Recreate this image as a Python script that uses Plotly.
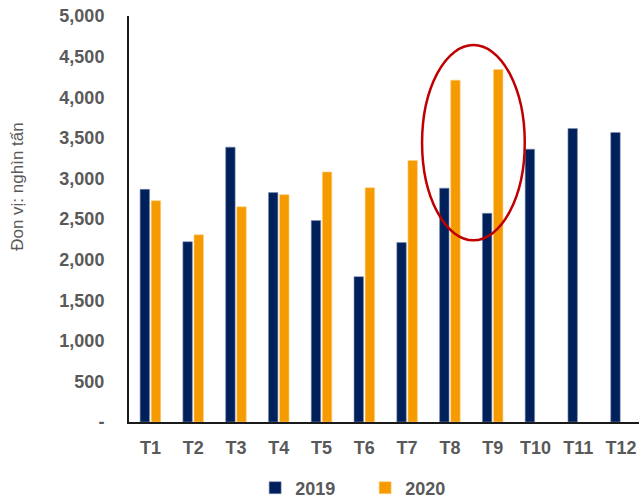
import plotly.graph_objects as go

months = ["T1", "T2", "T3", "T4", "T5", "T6", "T7", "T8", "T9", "T10", "T11", "T12"]
v2019 = [2865, 2220, 3385, 2825, 2480, 1790, 2210, 2880, 2570, 3360, 3615, 3565]
v2020 = [2725, 2305, 2650, 2800, 3080, 2885, 3220, 4210, 4340, None, None, None]
ytick_vals = [0, 500, 1000, 1500, 2000, 2500, 3000, 3500, 4000, 4500, 5000]
ytick_text = ["-", "500", "1,000", "1,500", "2,000", "2,500", "3,000", "3,500", "4,000", "4,500", "5,000"]

NAVY = "#00205C"
ORANGE = "#F59B00"
GRAY = "#595959"
FONT = "Liberation Sans"

fig = go.Figure()
fig.add_trace(go.Bar(x=months, y=v2019, name="2019", marker=dict(color=NAVY, line=dict(color="#8090b0", width=0.6))))
fig.add_trace(go.Bar(x=months, y=v2020, name="2020", marker=dict(color=ORANGE, line=dict(color="#ffd080", width=0.6))))

# highlight ellipse around T8-T9 of 2020
fig.add_shape(type="circle", xref="x", yref="y", x0=6.35, x1=8.75, y0=2238, y1=4642,
              line=dict(color="#C00000", width=2.5), fillcolor="rgba(0,0,0,0)")

# y-axis title (placed as annotation to match its off-centre position)
fig.add_annotation(text="Đon vị: nghìn tấn", textangle=-90, xref="paper", yref="paper",
                   x=-0.219, y=0.58, xanchor="center", yanchor="middle", showarrow=False,
                   font=dict(family=FONT, size=17, color=GRAY))

fig.update_layout(
    width=639, height=500,
    margin=dict(l=129, r=0, t=16, b=78, autoexpand=False),
    paper_bgcolor="white", plot_bgcolor="white",
    barmode="group", bargap=0.48, bargroupgap=0.15,
    font=dict(family=FONT, color=GRAY),
    showlegend=True,
    legend=dict(orientation="h", x=0.463, xanchor="center", y=-0.117, yanchor="top",
                font=dict(family=FONT, size=18, color=GRAY, weight="bold"),
                itemwidth=30, entrywidth=65, traceorder="normal", tracegroupgap=0),
    xaxis=dict(range=[-0.5, 11.42], showgrid=False, showline=True, linecolor="#1a1a1a", linewidth=2,
               ticks="", ticklabelstandoff=8,
               tickfont=dict(family=FONT, size=18, color=GRAY, weight="bold"), fixedrange=True),
    yaxis=dict(range=[0, 5000], tickvals=ytick_vals, ticktext=ytick_text, showgrid=False,
               showline=True, linecolor="#1a1a1a", linewidth=2, ticks="", ticklabelstandoff=19,
               tickfont=dict(family=FONT, size=18, color=GRAY, weight="bold")),
)
fig.write_html("out.html")
